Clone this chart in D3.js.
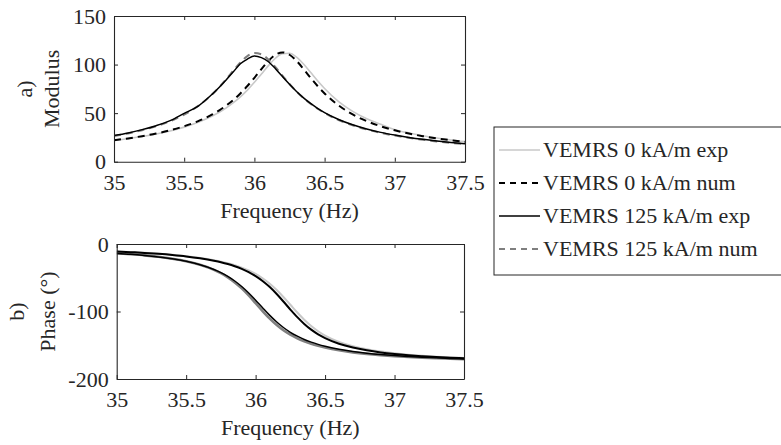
<!DOCTYPE html>
<html>
<head>
<meta charset="utf-8">
<script src="https://cdn.jsdelivr.net/npm/d3@7/dist/d3.min.js"></script>
<style>
  html, body { margin: 0; padding: 0; background: #fff; }
  svg { display: block; }
  svg text { font-family: "Liberation Serif", "Nimbus Roman", "Nimbus Roman No9 L", "FreeSerif", "Times", "Tinos", "Noto Serif", "DejaVu Serif", "Georgia", "Droid Serif", serif !important; fill: #262626; }
</style>
</head>
<body>
<svg id="chart" width="781" height="445"></svg>
<script>
// Frequency grid (Hz) shared by every curve
const freq = [35, 35.1, 35.2, 35.3, 35.4, 35.5, 35.6, 35.7, 35.75, 35.8, 35.85, 35.9, 35.95,
  36, 36.05, 36.1, 36.15, 36.2, 36.25, 36.3, 36.35, 36.4, 36.45, 36.5,
  36.6, 36.7, 36.8, 36.9, 37, 37.1, 37.2, 37.3, 37.4, 37.5];

// Modulus of the response
const mod0Exp = [21.9, 23.7, 25.9, 28.5, 31.7, 35.6, 40.6, 47.0, 50.9, 55.4, 60.7, 66.8, 73.7,
  81.7, 90.3, 98.9, 106.5, 111.2, 111.6, 107.7, 100.6, 92.0, 83.3, 75.3,
  61.8, 51.8, 44.2, 38.5, 33.0, 29.6, 26.8, 24.4, 22.4, 20.7];
const mod0Num = [22.1, 24.0, 26.3, 29.0, 32.3, 36.5, 41.8, 48.7, 52.9, 57.9, 63.6, 70.3, 77.9,
  86.4, 95.4, 103.8, 110.1, 112.5, 110.1, 103.8, 95.4, 86.4, 77.9, 70.3,
  57.9, 48.7, 41.8, 36.5, 32.3, 29.0, 26.3, 24.0, 22.1, 20.4];
const mod125Exp = [26.9, 29.6, 33.0, 37.1, 42.3, 49.8, 57.3, 69.6, 76.6, 84.4, 92.5, 100.8, 105.6,
  108.8, 107.2, 102.9, 95.7, 87.6, 79.7, 72.3, 65.7, 60.0, 55.0, 50.6,
  43.5, 38.0, 33.7, 30.2, 27.4, 25.0, 23.0, 21.3, 19.8, 18.5];
const mod125Num = [26.4, 29.1, 32.4, 36.5, 41.7, 48.5, 57.5, 69.4, 76.8, 85.0, 93.8, 102.2, 108.7,
  111.9, 110.5, 105.1, 97.3, 88.5, 80.0, 72.3, 65.5, 59.6, 54.5, 50.1,
  42.9, 37.5, 33.2, 29.7, 26.9, 24.6, 22.6, 20.9, 19.4, 18.2];

// Phase of the response (degrees)
const ph0Exp = [-11.1, -12.0, -13.1, -14.5, -16.1, -18.1, -20.6, -24.0, -26.1, -28.6, -31.5, -35.0, -39.2,
  -44.4, -50.8, -58.5, -67.8, -78.5, -90.0, -101.5, -112.2, -121.5, -129.2, -135.6,
  -145.0, -151.4, -156.0, -159.4, -161.9, -163.9, -165.5, -166.9, -168.0, -168.9];
const ph0Num = [-11.1, -12.1, -13.2, -14.6, -16.3, -18.4, -21.2, -24.8, -27.0, -29.7, -33.0, -36.9, -41.6,
  -47.5, -54.7, -63.4, -73.7, -85.2, -97.1, -108.4, -118.4, -126.9, -133.8, -139.4,
  -147.7, -153.4, -157.5, -160.6, -162.9, -164.7, -166.2, -167.5, -168.5, -169.4];
const ph125Exp = [-13.9, -15.3, -17.1, -19.3, -22.0, -25.7, -30.7, -37.7, -42.3, -48.0, -54.8, -63.0, -72.6,
  -83.3, -94.5, -105.4, -115.2, -123.7, -130.8, -136.6, -141.5, -145.4, -148.7, -151.5,
  -155.9, -159.2, -161.7, -163.7, -165.3, -166.6, -167.7, -168.6, -169.5, -170.2];
const ph125Num = [-13.6, -15.1, -16.8, -19.0, -21.9, -25.6, -30.9, -38.3, -43.3, -49.4, -56.9, -65.8, -76.2,
  -87.7, -99.3, -110.2, -119.7, -127.8, -134.4, -139.8, -144.2, -147.9, -150.9, -153.4,
  -157.5, -160.5, -162.8, -164.6, -166.1, -167.3, -168.4, -169.3, -170.0, -170.7];

const seriesNames = ["VEMRS 0 kA/m exp", "VEMRS 0 kA/m num", "VEMRS 125 kA/m exp", "VEMRS 125 kA/m num"];
const xTicks = [35, 35.5, 36, 36.5, 37, 37.5];
const modTicks = [0, 50, 100, 150];
const phaseTicks = [-200, -100, 0];

// Line styles for the four series
const styles = [
  { color: "#c8c8c8", width: 1.6, dash: null },
  { color: "#000000", width: 2.0, dash: "7,5" },
  { color: "#000000", width: 1.5, dash: null },
  { color: "#7f7f7f", width: 2.0, dash: "7,5" }
];
// In the phase panel every curve is drawn continuous
const phaseStyles = [
  { color: "#c8c8c8", width: 2.0, dash: null },
  { color: "#000000", width: 2.0, dash: null },
  { color: "#000000", width: 1.5, dash: null },
  { color: "#808080", width: 2.6, dash: null }
];

const svg = d3.select("#chart");
const axisColor = "#262626";
const fontSize = 22;

function panel(opts) {
  const { left, right, top, bottom, yDomain, yTicks, yFmt, data, sty, order, clipId, label1, label2, label1X, label2X } = opts;
  const x = d3.scaleLinear().domain([35, 37.5]).range([left, right]);
  const y = d3.scaleLinear().domain(yDomain).range([bottom, top]);
  const g = svg.append("g");

  g.append("clipPath").attr("id", clipId)
    .append("rect").attr("x", left).attr("y", top).attr("width", right - left).attr("height", bottom - top);

  const line = d3.line()
    .x((d, i) => x(freq[i]))
    .y(d => y(d))
    .curve(d3.curveMonotoneX);

  const lines = g.append("g").attr("clip-path", `url(#${clipId})`);
  order.forEach(k => {
    lines.append("path")
      .attr("d", line(data[k]))
      .attr("fill", "none")
      .attr("stroke", sty[k].color)
      .attr("stroke-width", sty[k].width)
      .attr("stroke-dasharray", sty[k].dash)
      .attr("stroke-linejoin", "round");
  });

  const tickLen = 4;
  const axes = [
    { a: d3.axisBottom(x), t: `translate(0,${bottom})`, labels: true },
    { a: d3.axisTop(x), t: `translate(0,${top})`, labels: false },
    { a: d3.axisLeft(y), t: `translate(${left},0)`, labels: true, isY: true },
    { a: d3.axisRight(y), t: `translate(${right},0)`, labels: false, isY: true }
  ];
  axes.forEach(ax => {
    const a = ax.a.tickSizeInner(-tickLen).tickSizeOuter(0)
      .tickValues(ax.isY ? yTicks : xTicks)
      .tickFormat(ax.isY ? yFmt : d => String(d));
    const ag = g.append("g").attr("transform", ax.t).call(a).attr("font-family", null);
    ag.select(".domain").attr("stroke", axisColor).attr("stroke-width", 1.1);
    ag.selectAll(".tick line").attr("stroke", axisColor).attr("stroke-width", 1);
    ag.selectAll(".tick text")
      .attr("font-size", fontSize)
      .attr("fill", axisColor);
    if (!ax.labels) ag.selectAll(".tick text").remove();
    else if (ax.isY) {
      ag.selectAll(".tick text").attr("x", -8).attr("dy", "0.33em");
    } else {
      ag.selectAll(".tick text").attr("y", 28).attr("dy", 0);
    }
  });

  // x-axis title
  g.append("text")
    .attr("x", (left + right) / 2)
    .attr("y", bottom + 56)
    .attr("text-anchor", "middle")
    .attr("font-size", fontSize)
    .text("Frequency (Hz)");

  // two-line y-axis title
  const cy = (top + bottom) / 2;
  g.append("text")
    .attr("transform", `translate(${label1X},${cy}) rotate(-90)`)
    .attr("text-anchor", "middle")
    .attr("font-size", fontSize)
    .text(label1);
  g.append("text")
    .attr("transform", `translate(${label2X},${cy}) rotate(-90)`)
    .attr("text-anchor", "middle")
    .attr("font-size", fontSize)
    .text(label2);
}

const hyphenFmt = d => String(d);

panel({
  left: 114, right: 465, top: 16, bottom: 161.7,
  yDomain: [0, 150], yTicks: modTicks, yFmt: hyphenFmt,
  data: [mod0Exp, mod0Num, mod125Exp, mod125Num], sty: styles,
  order: [0, 1, 3, 2], clipId: "clipMod",
  label1: "a)", label2: "Modulus", label1X: 32, label2X: 59
});

panel({
  left: 116.7, right: 464, top: 244, bottom: 379,
  yDomain: [-200, 0], yTicks: phaseTicks, yFmt: hyphenFmt,
  data: [ph0Exp, ph0Num, ph125Exp, ph125Num], sty: phaseStyles,
  order: [0, 3, 1, 2], clipId: "clipPhase",
  label1: "b)", label2: "Phase (°)", label1X: 24, label2X: 55
});

// Legend
const lg = svg.append("g");
const lx = 494, ly = 127, lw = 300, lh = 148;
lg.append("rect").attr("x", lx).attr("y", ly).attr("width", lw).attr("height", lh)
  .attr("fill", "#fff").attr("stroke", axisColor).attr("stroke-width", 1);
const rowY = [150, 183, 216, 249];
seriesNames.forEach((name, i) => {
  lg.append("line")
    .attr("x1", lx + 5).attr("x2", lx + 46)
    .attr("y1", rowY[i]).attr("y2", rowY[i])
    .attr("stroke", styles[i].color)
    .attr("stroke-width", styles[i].width)
    .attr("stroke-dasharray", styles[i].dash ? "6,5" : null);
  lg.append("text")
    .attr("x", lx + 49).attr("y", rowY[i])
    .attr("dy", "0.33em")
    .attr("font-size", fontSize)
    .text(name);
});
</script>
</body>
</html>
